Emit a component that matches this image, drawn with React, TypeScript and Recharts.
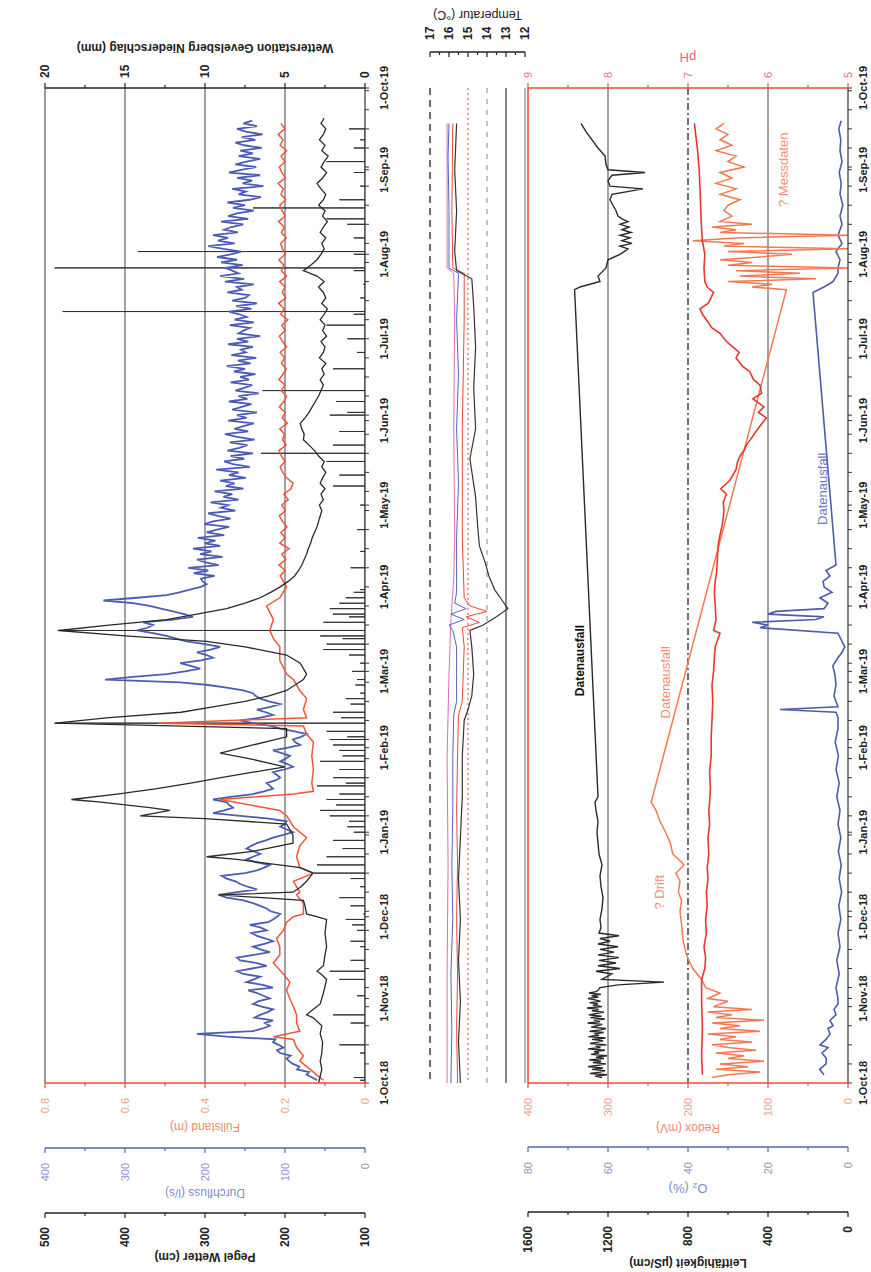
import { LineChart, Line, XAxis, YAxis, ReferenceLine, ReferenceDot } from 'recharts';

const FONT = "'Liberation Sans', Arial, sans-serif";

// time axis in days since 1-Oct-18
const monthDays = [0, 31, 61, 92, 123, 151, 182, 212, 243, 273, 304, 335, 365];
const monthLabels = ['1-Oct-18', '1-Nov-18', '1-Dec-18', '1-Jan-19', '1-Feb-19', '1-Mar-19', '1-Apr-19', '1-May-19', '1-Jun-19', '1-Jul-19', '1-Aug-19', '1-Sep-19', '1-Oct-19'];
const weekDays = Array.from({ length: 53 }, (_, i) => i * 7);
const dayTicks = Array.from(new Set([...monthDays, ...weekDays])).sort((a, b) => a - b);

// axis ticks (majors get labels)
const levelTicks = [0, 0.1, 0.2, 0.3, 0.4, 0.5, 0.6, 0.7, 0.8];
const levelMajors = [0, 0.2, 0.4, 0.6, 0.8];
const flowTicks = [0, 50, 100, 150, 200, 250, 300, 350, 400];
const flowMajors = [0, 100, 200, 300, 400];
const gaugeTicks = [100, 150, 200, 250, 300, 350, 400, 450, 500];
const gaugeMajors = [100, 200, 300, 400, 500];
const rainTicks = [0, 2.5, 5, 7.5, 10, 12.5, 15, 17.5, 20];
const rainMajors = [0, 5, 10, 15, 20];
const tempTicks = [12, 12.5, 13, 13.5, 14, 14.5, 15, 15.5, 16, 16.5, 17];
const tempMajors = [12, 13, 14, 15, 16, 17];
const redoxTicks = [0, 50, 100, 150, 200, 250, 300, 350, 400];
const redoxMajors = [0, 100, 200, 300, 400];
const o2Ticks = [0, 10, 20, 30, 40, 50, 60, 70, 80];
const o2Majors = [0, 20, 40, 60, 80];
const lfTicks = [0, 200, 400, 600, 800, 1000, 1200, 1400, 1600];
const lfMajors = [0, 400, 800, 1200, 1600];
const phTicks = [5, 5.5, 6, 6.5, 7, 7.5, 8, 8.5, 9];
const phMajors = [5, 6, 7, 8, 9];

// ---- upper panel
// Durchfluss (l/s), one reading per day from day 1
const flowDaily = [
  60, 66, 73, 70, 85, 82, 90, 95, 98, 93, 106, 110, 102, 108, 115, 112, 173, 210, 140, 128,
  119, 125, 115, 138, 131, 122, 115, 129, 140, 133, 119, 127, 135, 146, 115, 128, 148, 139, 131, 152,
  160, 141, 123, 135, 156, 160, 139, 119, 131, 140, 126, 115, 124, 135, 142, 123, 130, 144, 121, 115,
  110, 106, 118, 123, 131, 140, 152, 173, 183, 160, 135, 147, 156, 162, 173, 179, 150, 135, 126, 119,
  137, 148, 140, 131, 139, 148, 142, 135, 124, 115, 102, 90, 98, 106, 100, 98, 120, 156, 190, 176,
  165, 170, 173, 190, 168, 140, 126, 115, 119, 123, 112, 106, 110, 115, 101, 90, 97, 106, 99, 94,
  104, 115, 96, 81, 87, 90, 80, 73, 88, 106, 118, 140, 156, 131, 115, 124, 135, 118, 106, 120,
  131, 137, 140, 152, 173, 196, 231, 325, 290, 248, 225, 206, 218, 231, 205, 190, 198, 210, 193, 181,
  200, 223, 236, 248, 265, 285, 272, 265, 277, 240, 215, 226, 240, 255, 269, 290, 327, 285, 248, 232,
  219, 205, 198, 203, 205, 188, 214, 196, 221, 183, 199, 210, 178, 206, 192, 215, 181, 200, 187, 209,
  176, 198, 185, 170, 201, 190, 168, 184, 196, 162, 180, 171, 193, 158, 177, 166, 188, 152, 174, 163,
  181, 149, 170, 158, 186, 144, 165, 176, 151, 168, 140, 172, 157, 147, 169, 138, 160, 175, 146, 163,
  152, 139, 171, 148, 160, 135, 166, 154, 142, 170, 147, 158, 133, 162, 151, 141, 168, 145, 156, 137,
  164, 150, 173, 143, 159, 136, 167, 149, 155, 140, 171, 146, 160, 131, 158, 152, 144, 169, 139, 163,
  148, 157, 170, 142, 161, 135, 166, 150, 145, 172, 154, 160, 139, 175, 151, 181, 158, 166, 174, 153,
  180, 160, 185, 168, 155, 177, 196, 163, 184, 171, 190, 159, 176, 167, 152, 180, 146, 171, 160, 139,
  165, 150, 172, 144, 130, 158, 149, 166, 127, 153, 141, 160, 131, 170, 155, 136, 162, 148, 131, 158,
  140, 156, 129, 151, 162, 137, 154, 128, 149, 160, 135, 152, 141,
];

// Füllstand (m): irregular readings until April, then every 2 days
const levelEarly: [number, number][] = [
  [1, 0.104], [3, 0.121], [5, 0.137], [8, 0.163], [10, 0.154], [13, 0.171], [16, 0.179], [17, 0.229], [19, 0.163], [22, 0.171], [25, 0.171], [28, 0.179], [31, 0.188], [34, 0.196], [37, 0.188], [40, 0.204], [44, 0.229], [47, 0.213], [50, 0.213], [53, 0.221], [56, 0.204], [59, 0.196], [61, 0.179], [62, 0.154], [66, 0.154], [69, 0.171], [70, 0.163], [74, 0.179], [77, 0.129], [79, 0.163], [83, 0.171], [87, 0.163], [90, 0.146], [94, 0.179], [98, 0.196], [100, 0.213], [104, 0.363], [106, 0.179], [107, 0.129], [110, 0.133], [115, 0.129], [120, 0.133], [125, 0.129], [128, 0.146], [131, 0.154], [132, 0.517], [134, 0.146], [137, 0.154], [141, 0.146], [144, 0.163], [148, 0.179], [150, 0.196], [155, 0.213], [160, 0.213], [163, 0.229], [166, 0.238], [170, 0.229], [175, 0.246], [178, 0.213], [180, 0.205],
];
const levelLate = [
  0.196, 0.204, 0.212, 0.2, 0.215, 0.198, 0.208, 0.19, 0.213, 0.2, 0.21, 0.195, 0.206, 0.214, 0.199, 0.208, 0.192, 0.203, 0.185, 0.18,
  0.196, 0.206, 0.212, 0.2, 0.209, 0.215, 0.197, 0.206, 0.201, 0.213, 0.194, 0.207, 0.199, 0.214, 0.203, 0.196, 0.21, 0.2, 0.215, 0.205,
  0.197, 0.209, 0.201, 0.212, 0.196, 0.206, 0.214, 0.2, 0.208, 0.193, 0.211, 0.202, 0.216, 0.198, 0.207, 0.2, 0.213, 0.196, 0.209, 0.203,
  0.215, 0.199, 0.206, 0.211, 0.197, 0.209, 0.202, 0.216, 0.2, 0.207, 0.213, 0.198, 0.21, 0.204, 0.217, 0.199, 0.208, 0.214, 0.2, 0.21,
  0.196, 0.212, 0.205, 0.217, 0.2, 0.21,
];

// Pegel Wetter (cm)
const gaugeEarly: [number, number][] = [
  [0, 158], [5, 154], [8, 156], [11, 154], [15, 153], [18, 156], [21, 154], [24, 165], [25, 173], [27, 165], [29, 156], [33, 152], [38, 148], [40, 155], [41, 160], [43, 152], [47, 150], [50, 148], [55, 150], [60, 148], [62, 173], [65, 175], [67, 177], [69, 283], [70, 190], [72, 180], [74, 173], [77, 165], [79, 181], [82, 260], [83, 298], [85, 240], [88, 190], [91, 190], [95, 198], [97, 300], [98, 381], [100, 344], [101, 369], [103, 430], [104, 467], [106, 410], [108, 360], [110, 318], [112, 280], [114, 240], [116, 200], [119, 245], [121, 281], [124, 240], [127, 198], [130, 198], [132, 487], [134, 420], [136, 330], [138, 290], [140, 250], [142, 220], [144, 198], [148, 177], [150, 173], [154, 181], [157, 198], [160, 250], [162, 298], [164, 400], [166, 483], [168, 420], [170, 348], [172, 310], [174, 273], [176, 250], [178, 231], [180, 218], [182, 206],
];
const gaugeLate = [
  196, 188, 183, 179, 176, 173, 171, 168, 166, 163, 160, 158, 156, 154, 157, 152, 155, 150, 156, 153,
  149, 154, 151, 158, 163, 170, 177, 176, 179, 181, 175, 170, 166, 162, 158, 155, 152, 156, 151, 154,
  149, 157, 152, 150, 155, 148, 153, 150, 156, 151, 147, 154, 149, 152, 158, 151, 160, 177, 168, 160,
  155, 151, 154, 149, 156, 152, 147, 153, 150, 158, 152, 149, 155, 160, 153, 148, 155, 151, 146, 154,
  150, 157, 152, 149, 155, 151,
];

// Niederschlag (mm) per rain day
const rainMm: [number, number][] = [
  [1, 0.3], [2, 0.7], [11, 0.3], [14, 1.6], [22, 0.9], [25, 2.0], [32, 0.5], [38, 1.6], [41, 2.2], [45, 0.9], [50, 0.3], [52, 0.9], [56, 0.5], [58, 0.8], [60, 1.2], [62, 0.1], [65, 0.9], [68, 1.6], [72, 0.3], [75, 0.9], [77, 3.2], [80, 3.0], [83, 2.4], [86, 1.4], [89, 2.0], [92, 0.7], [94, 1.1], [96, 1.0], [98, 2.2], [100, 2.8], [102, 1.8], [104, 2.4], [106, 1.6], [109, 3.0], [110, 1.2], [112, 2.0], [115, 1.6], [118, 2.8], [120, 1.4], [122, 1.6], [124, 2.0], [126, 2.2], [127, 1.1], [129, 2.4], [132, 19.4], [134, 1.5], [136, 2.0], [139, 0.9], [141, 1.2], [143, 0.3], [146, 0.6], [148, 0.5], [151, 0.8], [154, 0.3], [157, 1.0], [159, 2.6], [161, 2.4], [163, 1.4], [164, 2.8], [166, 19.2], [169, 2.6], [171, 1.0], [172, 2.0], [174, 2.2], [176, 1.6], [178, 1.2], [180, 0.7], [181, 0.3], [189, 0.9], [195, 0.3], [203, 0.5], [212, 0.3], [219, 2.0], [223, 1.6], [228, 2.4], [231, 6.5], [234, 2.0], [239, 1.6], [245, 2.2], [246, 1.1], [250, 1.8], [254, 6.4], [262, 2.0], [268, 0.5], [273, 1.1], [278, 2.4], [282, 0.7], [283, 18.9], [288, 0.3], [293, 0.1], [298, 0.7], [299, 19.4], [304, 0.7], [305, 14.2], [310, 0.7], [315, 1.1], [317, 2.4], [321, 7.0], [324, 1.6], [329, 0.3], [334, 0.7], [338, 2.4], [343, 0.7], [346, 0.3], [350, 1.0],
];

// ---- temperature strip (°C)
const tempBlack: [number, number][] = [[0, 15.4], [15, 15.5], [30, 15.4], [45, 15.5], [60, 15.4], [75, 15.5], [90, 15.4], [105, 15.3], [120, 15.3], [133, 15.2], [137, 15.0], [142, 14.8], [150, 14.7], [160, 14.8], [166, 14.9], [168, 14.2], [171, 13.5], [174, 12.9], [177, 13.2], [181, 13.6], [186, 13.9], [191, 14.1], [197, 14.4], [205, 14.5], [215, 14.6], [229, 14.9], [240, 14.6], [255, 14.7], [270, 14.6], [285, 14.7], [295, 14.8], [298, 15.6], [305, 15.7], [320, 15.6], [335, 15.7], [352, 15.6]];
const tempBlue: [number, number][] = [[0, 15.9], [20, 15.85], [40, 15.9], [60, 15.8], [80, 15.85], [100, 15.8], [120, 15.8], [135, 15.75], [140, 15.6], [160, 15.6], [166, 15.8], [168, 16.0], [170, 15.2], [172, 15.9], [174, 15.1], [176, 15.7], [180, 15.6], [200, 15.6], [220, 15.5], [240, 15.6], [260, 15.5], [280, 15.6], [297, 15.5], [299, 16.0], [320, 16.0], [340, 16.05], [352, 16.0]];
const tempRed: [number, number][] = [[0, 15.55], [20, 15.6], [40, 15.55], [60, 15.6], [80, 15.55], [100, 15.6], [120, 15.55], [135, 15.5], [140, 15.3], [160, 15.2], [167, 15.3], [169, 14.4], [171, 15.1], [173, 14.0], [175, 14.9], [178, 15.2], [200, 15.3], [240, 15.3], [280, 15.2], [297, 15.2], [299, 15.8], [320, 15.85], [352, 15.8]];
const tempPink: [number, number][] = [[0, 16.1], [40, 16.1], [80, 16.05], [120, 16.1], [150, 16.0], [170, 15.9], [185, 15.75], [200, 15.7], [240, 15.75], [280, 15.7], [297, 15.75], [299, 16.1], [352, 16.1]];

// ---- lower panel
// Leitfähigkeit (µS/cm): half-day readings in October, then irregular
const lfOct = [
  1230, 1265, 1205, 1290, 1240, 1215, 1280, 1225, 1300, 1250, 1210, 1275, 1235, 1295, 1220, 1260, 1205, 1285, 1245, 1270,
  1215, 1300, 1238, 1262, 1208, 1290, 1250, 1225, 1280, 1212, 1298, 1245, 1268, 1222, 1292, 1236, 1210, 1284, 1255, 1228,
  1302, 1240, 1270, 1216, 1288, 1232, 1296, 1258, 1220, 1280, 1246, 1305, 1230, 1275, 1250, 1292, 1238, 1265, 1300, 1248,
  1282, 1235, 1295, 1260, 1250,
];
const lfLater: [number, number][] = [
  [35, 1240], [36, 1150], [37, 920], [38, 1230], [40, 1180], [41, 1260], [42, 1140], [43, 1250], [44, 1160], [45, 1245], [46, 1145], [47, 1250], [48, 1170], [49, 1240], [50, 1150], [51, 1250], [52, 1190], [53, 1240], [54, 1145], [55, 1245], [57, 1235], [60, 1240], [64, 1230], [68, 1225], [72, 1235], [76, 1240], [80, 1230], [84, 1245], [88, 1250], [92, 1255], [96, 1250], [100, 1260], [103, 1265], [105, 1250],
  [291, 1367], [292, 1340], [294, 1240], [296, 1250], [299, 1210], [302, 1200], [304, 1140], [305, 1120], [306, 1100], [307, 1140], [308, 1080], [309, 1130], [310, 1090], [311, 1140], [312, 1085], [313, 1130], [314, 1095], [315, 1140], [316, 1100], [317, 1130], [318, 1150], [320, 1160], [322, 1175], [324, 1190], [326, 1180], [328, 1025], [329, 1190], [331, 1200], [333, 1180], [334, 1015], [335, 1200], [337, 1210], [340, 1215], [343, 1250], [346, 1280], [349, 1310], [352, 1335],
];

const phVals: [number, number][] = [
  [3, 6.82], [10, 6.83], [20, 6.82], [30, 6.83], [38, 6.83], [42, 6.79], [46, 6.78], [50, 6.8], [55, 6.77], [60, 6.78], [65, 6.76], [70, 6.77], [75, 6.75], [79, 6.76], [84, 6.74], [90, 6.75], [95, 6.73], [100, 6.74], [103, 6.73], [108, 6.72], [114, 6.73], [120, 6.71], [127, 6.71], [133, 6.7], [140, 6.69], [146, 6.7], [151, 6.68], [156, 6.67], [160, 6.66], [165, 6.6], [166, 6.68], [170, 6.65], [175, 6.66], [180, 6.67], [184, 6.66], [188, 6.64], [194, 6.63], [198, 6.62], [201, 6.6], [205, 6.57], [210, 6.55], [213, 6.56], [216, 6.52], [218, 6.59], [221, 6.48], [225, 6.4], [228, 6.38], [230, 6.35], [232, 6.3], [234, 6.27], [236, 6.22], [239, 6.15], [241, 6.1], [244, 6.02], [246, 6.12], [248, 6.05], [251, 6.19], [253, 6.08], [256, 6.1], [258, 6.18], [261, 6.23], [263, 6.32], [266, 6.4], [268, 6.36], [270, 6.44], [272, 6.52], [275, 6.6], [277, 6.7], [280, 6.77], [282, 6.82], [284, 6.85], [286, 6.75], [287, 6.73], [290, 6.68], [292, 6.76], [294, 6.79], [299, 6.8], [304, 6.79], [309, 6.82], [313, 6.83], [320, 6.84], [328, 6.85], [335, 6.86], [342, 6.88], [347, 6.9], [352, 6.92],
];

const redoxMv: [number, number][] = [
  [2, 170], [3, 150], [4, 110], [5, 165], [6, 125], [7, 160], [8, 105], [9, 150], [10, 130], [11, 165], [12, 115], [13, 150], [14, 170], [15, 120], [16, 160], [17, 140], [18, 175], [19, 110], [20, 160], [21, 135], [22, 170], [23, 105], [24, 165], [25, 145], [26, 175], [27, 120], [28, 168], [30, 150], [31, 175], [33, 160], [35, 178], [38, 183],
  [42, 194], [47, 202], [52, 206], [58, 208], [63, 210], [67, 208], [70, 212], [74, 210], [77, 215], [80, 205], [81, 208], [84, 219], [88, 222], [92, 228], [96, 235], [100, 240], [103, 246],
  [291, 77], [292, 120], [293, 95], [294, 150], [295, 40], [296, 135], [297, 60], [298, 140], [299, 0], [300, 150], [301, 120], [302, 160], [303, 110], [304, 70], [305, 150], [306, 0], [307, 155], [308, 130], [309, 194], [310, 140], [311, 0], [312, 160], [313, 140], [314, 170], [315, 120], [316, 160], [318, 145], [320, 155],
  [322, 150], [324, 135], [326, 160], [328, 140], [330, 165], [332, 145], [334, 160], [336, 130], [338, 150], [340, 140], [342, 165], [344, 145], [346, 160], [348, 150], [350, 165], [352, 155],
];

const o2Pct: [number, number][] = [
  [3, 6], [5, 7.1], [7, 5.5], [9, 5.4], [11, 6.5], [13, 5], [14, 7], [16, 5.5], [18, 4.5], [20, 5], [21, 3.75], [23, 4.5], [25, 3], [27, 3.5], [29, 2.5], [31, 2.5], [35, 3], [40, 2.2], [45, 2.8], [50, 2], [55, 2.5], [60, 1.8], [65, 2.3], [70, 1.6], [75, 2.2], [80, 1.7], [85, 2.4], [90, 1.8], [95, 2.5], [100, 2], [105, 2.8], [110, 2.2], [115, 3], [120, 2.4], [125, 3.2], [130, 2.5], [134, 2.5], [136, 3], [137, 17], [138, 2.5], [142, 3.5], [146, 3], [150, 3.3], [153, 3.8], [156, 2.5], [158, 1.5], [160, 0.8], [162, 1.5], [165, 2.5], [167, 22], [168, 20], [169, 24], [170, 8], [171, 6], [172, 20], [173, 18], [174, 6], [176, 5], [178, 7], [180, 4], [182, 6], [184, 6.2], [186, 4.5], [188, 5.5], [190, 3],
  [290, 8.75], [292, 6], [294, 3.75], [297, 2.5], [299, 2.5], [302, 2], [305, 3], [308, 1.5], [311, 2.5], [315, 1.5], [318, 2], [322, 1.3], [326, 2], [330, 1.7], [334, 2.2], [338, 1.5], [342, 2], [346, 1.8], [350, 2.3], [353, 1.7],
];

// regular readings -> [day, value]
const onGrid = (start: number, step: number, vals: number[]): [number, number][] => vals.map((v, i) => [start + i * step, v]);
const toPts = (arr: [number, number][]) => arr.map(([day, v]) => ({ day, v }));
const toSpikes = (arr: [number, number][]) => arr.flatMap(([day, v]) => [{ day, v: 0 }, { day, v }, { day, v: 0 }]);

const flowPts = toPts(onGrid(1, 1, flowDaily));
const levelPts = toPts([...levelEarly, ...onGrid(182, 2, levelLate)]);
const gaugePts = toPts([...gaugeEarly, ...onGrid(184, 2, gaugeLate)]);
const lfPts = toPts([...onGrid(2, 0.5, lfOct), ...lfLater]);

const RED_AX = '#ef4a3a';
const BLUE_AX = '#5563b0';
const SALMON = '#f3a184';
const LAVENDER = '#8a95d4';

const dateTick = (labelOffset: number) => (p: any) => {
  const i = monthDays.indexOf(p.payload.value);
  return (
    <g>
      <line x1={p.x} y1={p.y} x2={p.x} y2={p.y + 4} stroke="#333" />
      {i >= 0 && (
        <text x={p.x} y={p.y + labelOffset} textAnchor="middle" dominantBaseline="central" fontSize={11} fontWeight="bold" fill="#222" fontFamily={FONT}>
          {monthLabels[i]}
        </text>
      )}
    </g>
  );
};

const valueTick = (majors: number[], side: 'left' | 'right', color: string, lineColor: string, bold: boolean, gap: number, inward = false) =>
  (p: any) => {
    const v = p.payload.value;
    const major = majors.includes(v);
    const out = side === 'left' ? -1 : 1;
    const dir = inward ? -out : out;
    return (
      <g>
        <line x1={p.x} y1={p.y} x2={p.x + dir * (major ? 5 : 3)} y2={p.y} stroke={lineColor} strokeWidth={1.2} />
        {major && (
          <text x={p.x + out * gap} y={p.y} textAnchor={side === 'left' ? 'end' : 'start'} dominantBaseline="central" fontSize={bold ? 12 : 11} fontWeight={bold ? 'bold' : 'normal'} fill={color} fontFamily={FONT}>
            {String(v)}
          </text>
        )}
      </g>
    );
  };

const AxisTitle = ({ viewBox, text, dx, color, bold, size }: any) => {
  if (!viewBox) return null;
  const cx = viewBox.x + dx;
  const cy = viewBox.y + viewBox.height / 2;
  return (
    <text x={cx} y={cy} transform={`rotate(-90 ${cx} ${cy})`} textAnchor="middle" dominantBaseline="central" fontSize={size || 12} fontWeight={bold ? 'bold' : 'normal'} fill={color} fontFamily={FONT}>
      {text}
    </text>
  );
};

const note = (text: string, color: string, size: number, bold = false) => (p: any) => (
  <text x={p.cx} y={p.cy} textAnchor="middle" dominantBaseline="central" fontSize={size} fontWeight={bold ? 'bold' : 'normal'} fill={color} fontFamily={FONT}>
    {text}
  </text>
);

const axisCommon = { type: 'number' as const, interval: 0, tickSize: 0, tickMargin: 0, tickLine: false, allowDataOverflow: true };

// Recharts stacks same-side axes by id order: a_ sits next to the plot
function HydroPanel() {
  return (
    <LineChart width={1272} height={400} margin={{ top: 45, right: 28, bottom: 5, left: 0 }}>
      <XAxis dataKey="day" type="number" domain={[0, 365]} ticks={dayTicks} interval={0} tickSize={0} tickMargin={0} tickLine={false} height={30} axisLine={{ stroke: '#333', strokeWidth: 1.2 }} tick={dateTick(19)} />
      <YAxis yAxisId="a_level" orientation="left" width={65} domain={[0, 0.8]} ticks={levelTicks} {...axisCommon}
        axisLine={{ stroke: RED_AX, strokeWidth: 1.6 }} tick={valueTick(levelMajors, 'left', SALMON, RED_AX, false, 15)}
        label={<AxisTitle text="Füllstand (m)" dx={21} color="#f08c6c" />} />
      <YAxis yAxisId="b_flow" orientation="left" width={65} domain={[0, 400]} ticks={flowTicks} {...axisCommon}
        axisLine={{ stroke: BLUE_AX, strokeWidth: 1.6 }} tick={valueTick(flowMajors, 'left', LAVENDER, BLUE_AX, false, 15)}
        label={<AxisTitle text="Durchfluss (l/s)" dx={20} color="#7f8ad0" />} />
      <YAxis yAxisId="c_gauge" orientation="left" width={59} domain={[100, 500]} ticks={gaugeTicks} {...axisCommon}
        axisLine={{ stroke: '#222', strokeWidth: 1.6 }} tick={valueTick(gaugeMajors, 'left', '#222', '#222', true, 14)}
        label={<AxisTitle text="Pegel Wetter (cm)" dx={15} color="#222" bold />} />
      <YAxis yAxisId="d_rain" orientation="right" width={60} domain={[0, 20]} ticks={rainTicks} {...axisCommon}
        axisLine={{ stroke: '#222', strokeWidth: 1.4 }} tick={valueTick(rainMajors, 'right', '#222', '#222', true, 10)}
        label={<AxisTitle text="Wetterstation Gevelsberg Niederschlag (mm)" dx={40} color="#222" bold />} />
      <ReferenceLine yAxisId="a_level" y={0.2} stroke="#444" strokeWidth={1} />
      <ReferenceLine yAxisId="a_level" y={0.4} stroke="#444" strokeWidth={1} />
      <ReferenceLine yAxisId="a_level" y={0.6} stroke="#444" strokeWidth={1} />
      <ReferenceLine yAxisId="a_level" y={0.8} stroke="#555" strokeWidth={1.2} />
      <Line yAxisId="d_rain" data={toSpikes(rainMm)} dataKey="v" stroke="#333" strokeWidth={1} dot={false} isAnimationActive={false} />
      <Line yAxisId="b_flow" data={flowPts} dataKey="v" stroke="#4b5db3" strokeWidth={1.8} dot={false} isAnimationActive={false} />
      <Line yAxisId="a_level" data={levelPts} dataKey="v" stroke="#f0553a" strokeWidth={1.5} dot={false} isAnimationActive={false} />
      <Line yAxisId="c_gauge" data={gaugePts} dataKey="v" stroke="#2a2a2a" strokeWidth={1.3} dot={false} isAnimationActive={false} />
    </LineChart>
  );
}

function TempPanel() {
  return (
    <LineChart width={1272} height={125} margin={{ top: 10, right: 0, bottom: 20, left: 189 }}>
      <XAxis dataKey="day" type="number" domain={[0, 365]} hide />
      <YAxis yAxisId="a_sp" orientation="right" width={36} type="number" domain={[0, 1]} axisLine={false} tickLine={false} tick={false} />
      <YAxis yAxisId="b_temp" orientation="right" width={52} domain={[12, 17]} ticks={tempTicks} {...axisCommon}
        axisLine={{ stroke: '#222', strokeWidth: 1.6 }} tick={valueTick(tempMajors, 'right', '#222', '#222', true, 12, true)}
        label={<AxisTitle text="Temperatur (°C)" dx={37} color="#222" size={12.5} />} />
      <ReferenceLine yAxisId="b_temp" y={17} stroke="#333" strokeWidth={1.4} strokeDasharray="7 5" />
      <ReferenceLine yAxisId="b_temp" y={15} stroke="#e8604a" strokeWidth={1.2} strokeDasharray="2 3" />
      <ReferenceLine yAxisId="b_temp" y={14} stroke="#999" strokeWidth={1.2} strokeDasharray="5 6" />
      <ReferenceLine yAxisId="b_temp" y={13} stroke="#555" strokeWidth={1.4} />
      <ReferenceLine yAxisId="b_temp" y={12} stroke="#999" strokeWidth={1.4} />
      <Line yAxisId="b_temp" data={toPts(tempPink)} dataKey="v" stroke="#d86fb8" strokeWidth={1} dot={false} isAnimationActive={false} />
      <Line yAxisId="b_temp" data={toPts(tempBlue)} dataKey="v" stroke="#5563c0" strokeWidth={1} dot={false} isAnimationActive={false} />
      <Line yAxisId="b_temp" data={toPts(tempRed)} dataKey="v" stroke="#e84a36" strokeWidth={1} dot={false} isAnimationActive={false} />
      <Line yAxisId="b_temp" data={toPts(tempBlack)} dataKey="v" stroke="#333" strokeWidth={1.2} dot={false} isAnimationActive={false} />
    </LineChart>
  );
}

function ChemPanel() {
  return (
    <LineChart width={1272} height={371} margin={{ top: 28, right: 28, bottom: 0, left: 0 }}>
      <XAxis dataKey="day" type="number" domain={[0, 365]} ticks={dayTicks} interval={0} tickSize={0} tickMargin={0} tickLine={false} height={23} axisLine={{ stroke: '#333', strokeWidth: 1.2 }} tick={dateTick(15)} />
      <YAxis yAxisId="a_redox" orientation="left" width={64} domain={[0, 400]} ticks={redoxTicks} {...axisCommon}
        axisLine={{ stroke: RED_AX, strokeWidth: 1.6 }} tick={valueTick(redoxMajors, 'left', SALMON, RED_AX, false, 15)}
        label={<AxisTitle text="Redox (mV)" dx={19} color="#f08c6c" />} />
      <YAxis yAxisId="b_o2" orientation="left" width={65} domain={[0, 80]} ticks={o2Ticks} {...axisCommon}
        axisLine={{ stroke: BLUE_AX, strokeWidth: 1.6 }} tick={valueTick(o2Majors, 'left', LAVENDER, BLUE_AX, false, 15)}
        label={<AxisTitle text="O₂ (%)" dx={24} color="#7f8ad0" size={13} />} />
      <YAxis yAxisId="c_lf" orientation="left" width={60} domain={[0, 1600]} ticks={lfTicks} {...axisCommon}
        axisLine={{ stroke: '#222', strokeWidth: 1.6 }} tick={valueTick(lfMajors, 'left', '#222', '#222', true, 14)}
        label={<AxisTitle text="Leitfähigkeit (µS/cm)" dx={9} color="#222" bold />} />
      <YAxis yAxisId="d_ph" orientation="right" width={60} domain={[5, 9]} ticks={phTicks} {...axisCommon}
        axisLine={{ stroke: RED_AX, strokeWidth: 1.6 }} tick={valueTick(phMajors, 'right', '#f0707a', RED_AX, false, 10)}
        label={<AxisTitle text="pH" dx={31} color="#f0607a" size={13} />} />
      <ReferenceLine yAxisId="d_ph" y={6} stroke="#444" strokeWidth={1} />
      <ReferenceLine yAxisId="d_ph" y={7} stroke="#222" strokeWidth={1.3} strokeDasharray="7 3 2 3" />
      <ReferenceLine yAxisId="d_ph" y={8} stroke="#444" strokeWidth={1} />
      <ReferenceLine yAxisId="d_ph" y={9} stroke={RED_AX} strokeWidth={1.6} />
      <Line yAxisId="c_lf" data={lfPts} dataKey="v" stroke="#2a2a2a" strokeWidth={1.4} dot={false} isAnimationActive={false} />
      <Line yAxisId="b_o2" data={toPts(o2Pct)} dataKey="v" stroke="#4f5ca8" strokeWidth={1.6} dot={false} isAnimationActive={false} />
      <Line yAxisId="a_redox" data={toPts(redoxMv)} dataKey="v" stroke="#f27a52" strokeWidth={1.5} dot={false} isAnimationActive={false} />
      <Line yAxisId="d_ph" data={toPts(phVals)} dataKey="v" stroke="#e8382c" strokeWidth={1.6} dot={false} isAnimationActive={false} />
      <ReferenceDot yAxisId="c_lf" x={155} y={1340} r={1} shape={note('Datenausfall', '#111', 12, true)} />
      <ReferenceDot yAxisId="a_redox" x={147} y={228} r={1} shape={note('Datenausfall', '#f39070', 13)} />
      <ReferenceDot yAxisId="a_redox" x={70} y={236} r={1} shape={note('? Drift', '#f39070', 13)} />
      <ReferenceDot yAxisId="a_redox" x={335} y={81} r={1} shape={note('? Messdaten', '#f39070', 13)} />
      <ReferenceDot yAxisId="b_o2" x={218} y={6.5} r={1} shape={note('Datenausfall', '#6a78bf', 13)} />
    </LineChart>
  );
}

export default function App() {
  return (
    <div style={{ position: 'absolute', left: 0, top: 0, width: 871, height: 1272, overflow: 'hidden', background: '#fff', fontFamily: FONT }}>
      <div style={{ position: 'absolute', left: 0, top: 0, width: 1272, height: 871, transformOrigin: '0 0', transform: 'translateY(1272px) rotate(-90deg)' }}>
        <div style={{ position: 'absolute', left: 0, top: 0 }}>
          <HydroPanel />
        </div>
        <div style={{ position: 'absolute', left: 0, top: 420 }}>
          <TempPanel />
        </div>
        <div style={{ position: 'absolute', left: 0, top: 500 }}>
          <ChemPanel />
        </div>
      </div>
    </div>
  );
}
